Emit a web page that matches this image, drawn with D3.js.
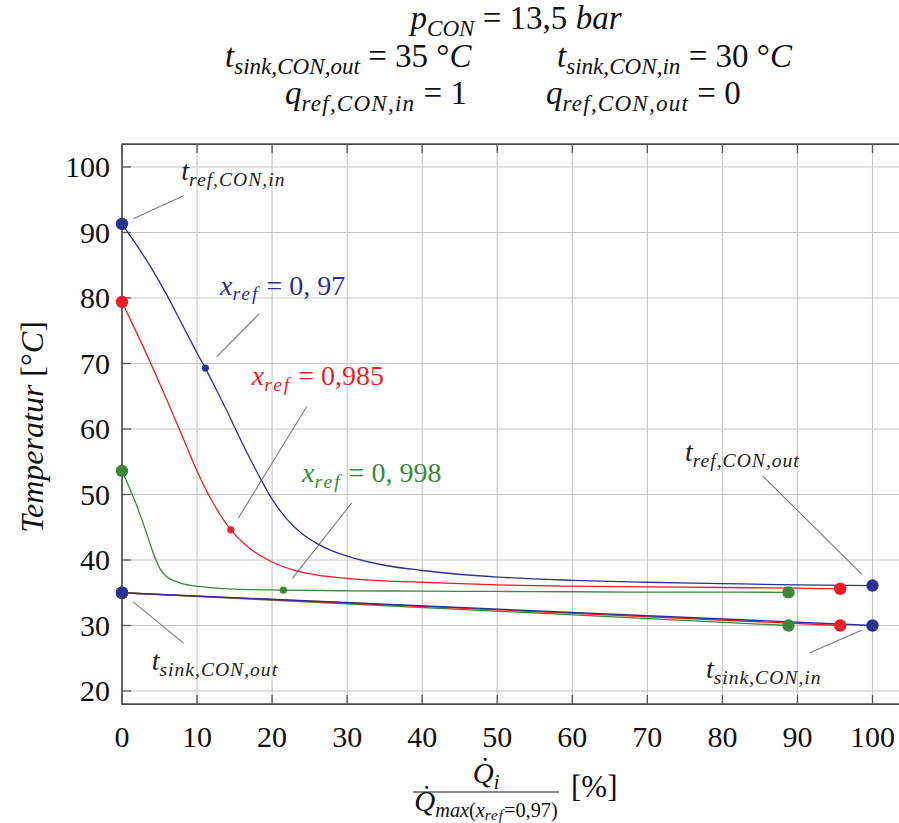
<!DOCTYPE html>
<html>
<head>
<meta charset="utf-8">
<script src="https://cdn.jsdelivr.net/npm/d3@7"></script>
</head>
<body style="margin:0;background:#fff">
<svg id="chart" width="899" height="823"></svg>
<script>
// ---------------- DATA ----------------
const xTicks = [0, 10, 20, 30, 40, 50, 60, 70, 80, 90, 100];
const yTicks = [20, 30, 40, 50, 60, 70, 80, 90, 100];

// refrigerant curves (t_ref along the condenser)
const refBlueX  = [0, 2, 4, 6, 8, 10, 11.1, 12, 14, 16, 18, 20, 22, 24, 26, 28, 30, 35, 40, 50, 60, 70, 80, 90, 100];
const refBlueY  = [91.3, 88.0, 84.4, 80.4, 76.0, 71.6, 69.3, 67.3, 62.7, 57.9, 53.4, 49.3, 46.2, 44.0, 42.5, 41.4, 40.6, 39.2, 38.4, 37.4, 36.9, 36.6, 36.4, 36.2, 36.1];
const refRedX   = [0, 2, 4, 6, 8, 10, 12, 14.5, 17, 20, 23, 26, 30, 35, 40, 50, 60, 70, 80, 90, 95.7];
const refRedY   = [79.4, 74.6, 69.6, 64.4, 59.0, 53.6, 49.0, 44.6, 41.8, 39.7, 38.4, 37.7, 37.2, 36.8, 36.6, 36.2, 36.0, 35.9, 35.8, 35.7, 35.6];
const refGreenX = [0, 1, 2, 3, 4, 5, 6, 7, 8, 10, 12, 15, 21.5, 30, 40, 50, 60, 70, 80, 88.8];
const refGreenY = [53.6, 51.0, 48.2, 45.0, 41.6, 38.8, 37.4, 36.8, 36.4, 36.0, 35.75, 35.55, 35.4, 35.3, 35.25, 35.2, 35.15, 35.1, 35.1, 35.05];

// sink lines (t_sink along the condenser)
const sinkBlueX  = [0, 100];
const sinkBlueY  = [35, 30];
const sinkRedX   = [0, 95.7];
const sinkRedY   = [35, 30];
const sinkGreenX = [0, 88.8];
const sinkGreenY = [35, 30.0];

// small label markers on each ref curve
const midMarkX = [11.1, 14.5, 21.5];
const midMarkY = [69.3, 44.6, 35.4];

const seriesNames = ["x_ref = 0,97", "x_ref = 0,985", "x_ref = 0,998"];

// annotation leader lines [x1,y1,x2,y2] in data units
const leaders = [
  [1.5, 92.1, 8.2, 95.6],     // t_ref,CON,in
  [12.6, 71.0, 18.3, 77.6],   // x_ref 0,97
  [15.5, 46.4, 24.6, 63.4],   // x_ref 0,985
  [22.7, 37.2, 30.6, 48.7],   // x_ref 0,998
  [1.5, 33.6, 8.2, 27.3],     // t_sink,CON,out
  [85.4, 52.8, 98.6, 37.8],   // t_ref,CON,out
  [91.6, 25.8, 98.6, 29.3]    // t_sink,CON,in
];

// ---------------- SETUP ----------------
const FONT = '"Liberation Serif"';
const C_BLUE = "#2c3090", C_RED = "#ee1c25", C_GREEN = "#3b883a";
const svg = d3.select("#chart");

const x = d3.scaleLinear().domain([0, 100]).range([122, 872.5]);
const y = d3.scaleLinear().domain([20, 100]).range([691, 167]);
const xMax = 104.5, yTop = 103.5, yBot = 18;

// rich text helper: segs = [{t, i (italic), l (level 0/1/2)}]
function rich(parent, px, py, segs, size, color, anchor, extra) {
  const t = parent.append("text")
    .attr("x", px).attr("y", py)
    .style("font-family", FONT)
    .attr("font-size", size)
    .attr("fill", color)
    .attr("text-anchor", anchor || "start")
    .attr("xml:space", "preserve");
  const off = [0, 0.2 * size, 0.2 * size + 0.1 * size];
  const scale = [1, 0.7, 0.52];
  let level = 0;
  segs.forEach(s => {
    const lv = s.l || 0;
    const ts = t.append("tspan").text(s.t)
      .attr("font-style", s.i ? "italic" : "normal")
      .attr("font-size", size * scale[lv]);
    if (s.ls) ts.attr("letter-spacing", s.ls);
    const dy = off[lv] - off[level];
    if (dy !== 0) ts.attr("dy", dy);
    level = lv;
  });
  if (extra) extra(t);
  return t;
}

// ---------------- GRID ----------------
const grid = svg.append("g").attr("stroke", "#c6c6c6").attr("stroke-width", 1.1);
grid.selectAll("line.v").data(xTicks).join("line")
  .attr("x1", d => x(d)).attr("x2", d => x(d))
  .attr("y1", y(yTop)).attr("y2", y(yBot));
grid.selectAll("line.h").data(yTicks).join("line")
  .attr("x1", x(0)).attr("x2", x(xMax))
  .attr("y1", d => y(d)).attr("y2", d => y(d));

// ---------------- AXES ----------------
svg.append("path")
  .attr("d", `M${x(xMax)},${y(yTop)}H${x(0)}V${y(yBot)}H${x(xMax)}`)
  .attr("fill", "none").attr("stroke", "#4a4a4a").attr("stroke-width", 1.6);
const tk = svg.append("g").attr("stroke", "#555").attr("stroke-width", 1.3);
tk.selectAll("line.yt").data(yTicks).join("line")
  .attr("x1", x(0)).attr("x2", x(0) + 9)
  .attr("y1", d => y(d)).attr("y2", d => y(d));
tk.selectAll("line.xb").data(xTicks).join("line")
  .attr("x1", d => x(d)).attr("x2", d => x(d))
  .attr("y1", y(yBot)).attr("y2", y(yBot) - 9);
tk.selectAll("line.xt").data(xTicks).join("line")
  .attr("x1", d => x(d)).attr("x2", d => x(d))
  .attr("y1", y(yTop)).attr("y2", y(yTop) + 9);

// tick labels
svg.append("g").selectAll("text").data(yTicks).join("text")
  .attr("x", x(0) - 12).attr("y", d => y(d) + 10)
  .style("font-family", FONT)
  .attr("text-anchor", "end")
  .attr("font-size", 30).attr("fill", "#111")
  .text(d => d);
svg.append("g").selectAll("text").data(xTicks).join("text")
  .attr("x", d => x(d)).attr("y", 747)
  .style("font-family", FONT)
  .attr("text-anchor", "middle")
  .attr("font-size", 30).attr("fill", "#111")
  .text(d => d);

// ---------------- AXIS TITLES ----------------
rich(svg, 0, 0, [
  { t: "Temperatur", i: true }, { t: " [°" }, { t: "C", i: true }, { t: "]" }
], 32, "#111", "middle", t => t.attr("transform", "translate(43,427) rotate(-90)"));

// x label: fraction
const fx = 486;
rich(svg, fx, 783, [{ t: "Q\u0307", i: true }, { t: "i", i: true, l: 1 }], 29, "#111", "middle");
svg.append("line").attr("x1", 413).attr("x2", 559).attr("y1", 792).attr("y2", 792)
  .attr("stroke", "#111").attr("stroke-width", 1.2);
rich(svg, fx, 811, [
  { t: "Q\u0307", i: true }, { t: "max", i: true, l: 1 }, { t: "(", l: 1 }, { t: "x", i: true, l: 1 },
  { t: "ref", i: true, l: 2, ls: 1 }, { t: "=0,97)", l: 1 }
], 29, "#111", "middle");
rich(svg, 571, 797, [{ t: "[%]" }], 31, "#111", "start");

// ---------------- TITLE ----------------
const TS = 33;
rich(svg, 516, 29, [{ t: "p", i: true }, { t: "CON", i: true, l: 1 }, { t: " = 13,5 " }, { t: "bar", i: true }], TS, "#111", "middle");
rich(svg, 225, 67, [{ t: "t", i: true }, { t: "sink,CON,out", i: true, l: 1 }, { t: " = 35 °" }, { t: "C", i: true }], TS, "#111", "start");
rich(svg, 557, 67, [{ t: "t", i: true }, { t: "sink,CON,in", i: true, l: 1 }, { t: " = 30 °" }, { t: "C", i: true }], TS, "#111", "start");
rich(svg, 285, 104, [{ t: "q", i: true }, { t: "ref,CON,in", i: true, l: 1, ls: 1.2 }, { t: " = 1" }], TS, "#111", "start");
rich(svg, 546, 104, [{ t: "q", i: true }, { t: "ref,CON,out", i: true, l: 1, ls: 1.2 }, { t: " = 0" }], TS, "#111", "start");

// ---------------- LEADER LINES ----------------
svg.append("g").selectAll("line").data(leaders).join("line")
  .attr("x1", d => x(d[0])).attr("y1", d => y(d[1]))
  .attr("x2", d => x(d[2])).attr("y2", d => y(d[3]))
  .attr("stroke", "#7a7a7a").attr("stroke-width", 1.1);

// ---------------- CURVES ----------------
const line = d3.line().x(d => x(d[0])).y(d => y(d[1])).curve(d3.curveMonotoneX);
const zip = (a, b) => a.map((v, i) => [v, b[i]]);

const series = [
  { name: seriesNames[2], c: C_GREEN, ref: zip(refGreenX, refGreenY), sink: zip(sinkGreenX, sinkGreenY), m: [midMarkX[2], midMarkY[2]] },
  { name: seriesNames[1], c: C_RED,   ref: zip(refRedX, refRedY),     sink: zip(sinkRedX, sinkRedY),     m: [midMarkX[1], midMarkY[1]] },
  { name: seriesNames[0], c: C_BLUE,  ref: zip(refBlueX, refBlueY),   sink: zip(sinkBlueX, sinkBlueY),   m: [midMarkX[0], midMarkY[0]] }
];

const cg = svg.append("g");
series.forEach(s => {
  cg.append("path").attr("d", line(s.ref)).attr("fill", "none").attr("stroke", s.c).attr("stroke-width", 1.3);
  cg.append("path").attr("d", line(s.sink)).attr("fill", "none").attr("stroke", s.c).attr("stroke-width", 1.3);
});
series.forEach(s => {
  const ends = [s.ref[0], s.ref[s.ref.length - 1], s.sink[0], s.sink[s.sink.length - 1]];
  cg.selectAll(null).data(ends).join("circle")
    .attr("cx", d => x(d[0])).attr("cy", d => y(d[1])).attr("r", 6.2).attr("fill", s.c);
  cg.append("circle").attr("cx", x(s.m[0])).attr("cy", y(s.m[1])).attr("r", 3.6).attr("fill", s.c);
});

// ---------------- ANNOTATION LABELS ----------------
const AS = 28;
const sub = (txt) => ({ t: txt, i: true, l: 1, ls: 1 });
rich(svg, x(7.9), y(98.0), [{ t: "t", i: true }, sub("ref,CON,in")], AS, "#222");
rich(svg, x(75.0), y(55.1), [{ t: "t", i: true }, sub("ref,CON,out")], AS, "#222");
rich(svg, x(3.95), y(23.2), [{ t: "t", i: true }, sub("sink,CON,out")], AS, "#222");
rich(svg, x(77.8), y(22.0), [{ t: "t", i: true }, sub("sink,CON,in")], AS, "#222");

rich(svg, x(13.05), y(80.5), [{ t: "x", i: true }, { t: "ref", i: true, l: 1, ls: 2 }, { t: " = 0, 97" }], AS, C_BLUE);
rich(svg, x(17.3), y(66.7), [{ t: "x", i: true }, { t: "ref", i: true, l: 1, ls: 2 }, { t: " = 0,985" }], AS, C_RED);
rich(svg, x(24.0), y(51.9), [{ t: "x", i: true }, { t: "ref", i: true, l: 1, ls: 2 }, { t: " = 0, 998" }], AS, C_GREEN);
</script>
</body>
</html>
